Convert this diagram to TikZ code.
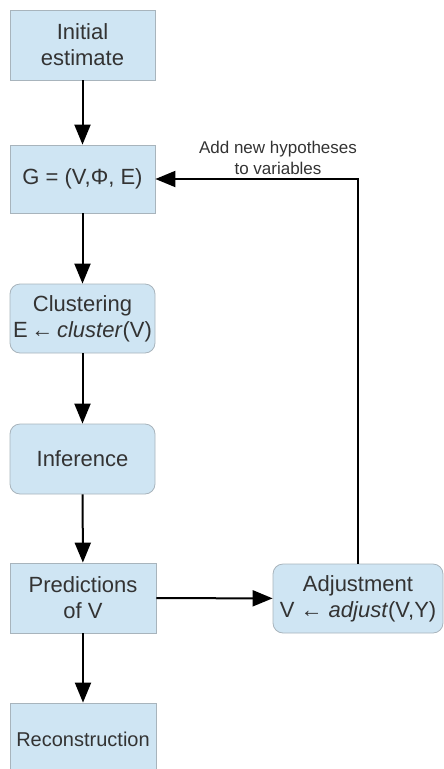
\documentclass[tikz,border=0pt]{standalone}
\usepackage{fontspec}
\setmainfont{Liberation Sans}
\usetikzlibrary{arrows.meta}
\definecolor{boxfill}{HTML}{CFE5F3}
\definecolor{boxdraw}{HTML}{A8B4BC}
\definecolor{txt}{HTML}{333333}
\tikzset{
  box/.style={draw=boxdraw, line width=0.8pt, fill=boxfill, text=txt, align=center,
    inner sep=0pt, font=\fontsize{22}{26}\selectfont},
  rbox/.style={box, rounded corners=10pt},
  conn/.style={line width=2pt, -{Triangle[length=20pt,width=16pt]}},
  lbl/.style={text=txt, align=center, font=\fontsize{17}{21}\selectfont, inner sep=0pt}
}
\begin{document}
\begin{tikzpicture}[x=1pt,y=1pt]
\useasboundingbox (0,0) rectangle (444,-769);
\clip (0,0) rectangle (444,-769);
\node[box, minimum width=145pt, minimum height=70pt] (init) at (82.5,-45) {Initial\\estimate};
\node[box, minimum width=145pt, minimum height=68pt] (g) at (82.5,-179) {G = (V,Φ, E)};
\node[rbox, minimum width=145pt, minimum height=69pt] (clu) at (82.5,-318.5) {Clustering\\E\,←\,\textit{cluster}(V)};
\node[rbox, minimum width=145pt, minimum height=70pt] (inf) at (82.5,-459) {Inference};
\node[box, minimum width=146pt, minimum height=70pt] (pred) at (83,-598) {Predictions\\of V};
\node[box, minimum width=146pt, minimum height=72pt, font=\fontsize{20}{24}\selectfont] (rec) at (83,-739) {Reconstruction};
\node[rbox, minimum width=170pt, minimum height=69pt] (adj) at (358,-598.5) {Adjustment\\V ← \textit{adjust}(V,Y)};
\node[lbl] (note) at (278,-158) {Add new hypotheses\\to variables};
\coordinate (corner) at (adj.north |- g.east);
\draw[conn] (init) -- (g);
\draw[conn] (g) -- (clu);
\draw[conn] (clu) -- (inf);
\draw[conn] (inf) -- (pred);
\draw[conn] (pred) -- (rec);
\draw[conn] (pred) -- (adj);
\draw[conn] (adj.north) -- (corner) -- (g.east);
\end{tikzpicture}
\end{document}
